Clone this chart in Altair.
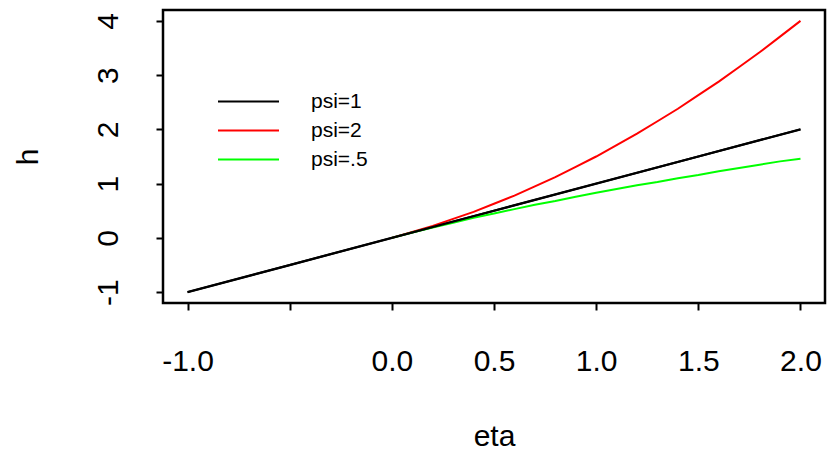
import altair as alt
import pandas as pd

eta_all = [-1.0, -0.5, 0.0, 0.5, 1.0, 1.5, 2.0]
h_psi1 = [-1.0, -0.5, 0.0, 0.5, 1.0, 1.5, 2.0]
eta_pos = [0.0, 0.1, 0.2, 0.3, 0.4, 0.5, 0.6, 0.7, 0.8, 0.9, 1.0,
           1.1, 1.2, 1.3, 1.4, 1.5, 1.6, 1.7, 1.8, 1.9, 2.0]
h_psi2 = [0.0, 0.11, 0.22, 0.35, 0.48, 0.63, 0.78, 0.95, 1.12, 1.31, 1.50,
          1.71, 1.92, 2.15, 2.38, 2.63, 2.88, 3.15, 3.42, 3.71, 4.00]
h_psi05 = [0.0, 0.10, 0.19, 0.28, 0.37, 0.45, 0.53, 0.61, 0.68, 0.76, 0.83,
           0.90, 0.97, 1.03, 1.10, 1.16, 1.23, 1.29, 1.35, 1.41, 1.46]

series = ["psi=1", "psi=2", "psi=.5"]
colors = ["#000000", "#ff0000", "#00ff00"]
x_ticks = [-1.0, -0.5, 0.0, 0.5, 1.0, 1.5, 2.0]
y_ticks = [-1, 0, 1, 2, 3, 4]

rows = []
for e, h in zip(eta_all, h_psi1):
    rows.append({"eta": e, "h": h, "psi": "psi=1"})
for e, h in zip(eta_pos, h_psi2):
    rows.append({"eta": e, "h": h, "psi": "psi=2"})
for e, h in zip(eta_pos, h_psi05):
    rows.append({"eta": e, "h": h, "psi": "psi=.5"})
df = pd.DataFrame(rows)

FONT = "Liberation Sans"

x = alt.X("eta:Q", scale=alt.Scale(domain=[-1.12, 2.12], nice=False, zero=False),
          axis=alt.Axis(values=x_ticks, title="eta", format=".1f",
                        labelExpr="datum.value == -0.5 ? '' : replace(datum.label, '\u2212', '-')",
                        domain=False, grid=False, tickSize=7, tickWidth=2, tickColor="black",
                        labelFontSize=30, labelColor="black", labelFont=FONT, labelPadding=36,
                        labelFlush=False, labelOverlap=False,
                        titleFontSize=30, titleFont=FONT, titleColor="black", titleFontWeight="normal",
                        titleBaseline="alphabetic", titleY=142, titleX=331, titleAnchor="middle"))
y = alt.Y("h:Q", scale=alt.Scale(domain=[-1.2, 4.2], nice=False, zero=False),
          axis=alt.Axis(values=y_ticks, title="h", format="d",
                        labelExpr="replace(datum.label, '\u2212', '-')",
                        domain=False, grid=False, tickSize=7, tickWidth=2, tickColor="black",
                        labelFontSize=30, labelColor="black", labelFont=FONT, labelAngle=270,
                        labelAlign="center", labelBaseline="alphabetic", labelPadding=39,
                        labelFlush=False, labelOverlap=False,
                        titleFontSize=30, titleFont=FONT, titleColor="black", titleFontWeight="normal",
                        titleAngle=270, titleBaseline="alphabetic", titleX=-126, titleY=146.5,
                        titleAlign="center"))

color = alt.Color("psi:N", scale=alt.Scale(domain=series, range=colors),
                  legend=alt.Legend(title=None, orient="none", legendX=54, legendY=77,
                                    symbolType="stroke", symbolSize=3721, symbolStrokeWidth=2,
                                    labelFontSize=21, labelFont=FONT, labelColor="black",
                                    labelOffset=31, rowPadding=0, clipHeight=29,
                                    padding=0, offset=0))

base = alt.Chart(df).mark_line(strokeWidth=2).encode(x=x, y=y, color=color)
top = alt.Chart(df).transform_filter(alt.datum.psi == "psi=1").mark_line(strokeWidth=2.3).encode(
    x=x, y=y, color=color)

chart = alt.layer(base, top).properties(
    width=662, height=293,
    background="white",
    autosize=alt.AutoSizeParams(type="none"),
    padding={"left": 163, "top": 10, "right": 2, "bottom": 151},
).configure_view(stroke="black", strokeWidth=2.5)

chart.save("out.html", embed_options={"renderer": "svg", "actions": False})
